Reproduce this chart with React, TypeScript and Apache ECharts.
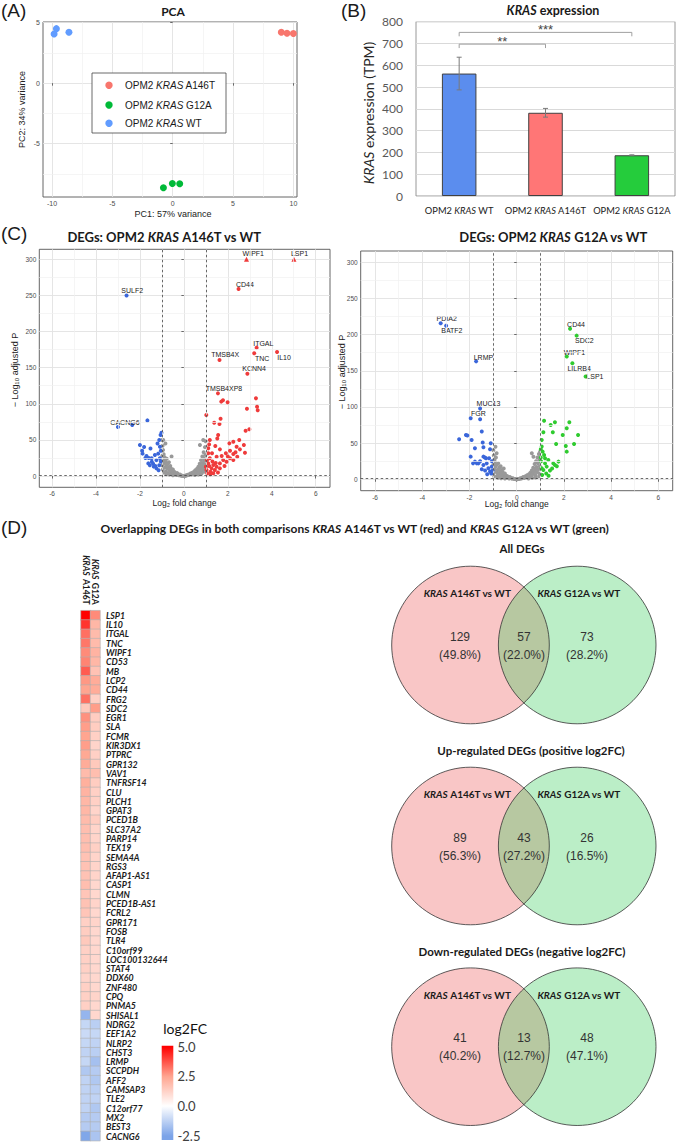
import React, { useEffect, useRef } from 'react';
import * as echarts from 'echarts';

// ===================== DATA =====================
// (A) PCA
const pcaGroupNames = ['A146T', 'G12A', 'WT'];
const pcaA146T = [[9.0, 4.2], [9.47, 4.12], [10.0, 4.1]];
const pcaG12A = [[-0.77, -8.63], [-0.03, -8.28], [0.58, -8.3]];
const pcaWT = [[-9.83, 4.06], [-9.64, 4.5], [-8.6, 4.2]];
const pcaXTicks = [-10, -5, 0, 5, 10];
const pcaYTicks = [-5, 0, 5];
const pcaMinorX = [-7.5, -2.5, 2.5, 7.5];
const pcaMinorY = [-7.5, -2.5, 2.5];

// (B) KRAS expression
const barCategories = ['WT', 'A146T', 'G12A'];
const barMeans = [562, 382, 187];
const barErrors = [75, 20, 2];
const sigFrom = [0, 0];
const sigTo = [1, 2];
const sigLevel = [697, 751];
const sigDrop = [679, 733];
const sigLabels = ['**', '***'];

// (C) Volcano plots
const volcXTicks = [-6, -4, -2, 0, 2, 4, 6];
const volcYTicks = [0, 50, 100, 150, 200, 250, 300];
const volcMinorX = [-5, -3, -1, 1, 3, 5];
const volcMinorY = [25, 75, 125, 175, 225, 275];
const fcThreshold = [-1, 1];
const pThreshold = [1.3];

const a146tLabeled = [
  ['WIPF1', 2.85, 300], ['LSP1', 5.01, 300], ['CD44', 2.49, 259], ['ITGAL', 3.31, 177.7],
  ['TNC', 3.2, 170], ['IL10', 4.24, 171.7], ['TMSB4X', 1.62, 160.6], ['KCNN4', 2.89, 141.7],
  ['TMSB4XP8', 1.55, 114.4], ['SULF2', -2.61, 250], ['CACNG6', -3.0, 67.8],
];
const a146tUp = [
  [1.02, 84.4], [1.7, 103], [1.78, 105], [1.99, 102], [2.87, 93], [3.28, 107.5], [3.33, 96], [3.36, 91],
  [1.38, 73.8], [1.62, 72], [1.67, 79.4], [2.98, 64.6], [2.81, 62.8], [1.56, 56.8], [1.52, 52],
  [2.52, 49.8], [2.25, 47.5], [2.07, 45.2], [2.73, 43], [2.4, 40.6], [1.43, 41.5], [1.15, 43.8],
  [1.18, 49.8], [1.11, 31.4], [1.64, 36.9], [2.55, 36.9], [2.1, 35], [1.91, 31.4], [2.25, 30.5],
  [2.78, 32.3], [1.72, 27.7], [1.49, 26.8], [2.43, 26.8], [1.18, 24.5], [2.1, 24.5], [1.11, 17.5],
  [1.34, 15.2], [1.64, 17.5], [1.94, 19.8], [2.25, 22.2], [1.79, 22.2], [1.26, 10.6], [1.03, 8.3],
  [1.49, 12.9], [1.15, 13.8], [1.41, 8.3], [1.64, 10.6], [1.06, 3.7], [1.21, 6], [1.0, 12.9],
  [1.34, 3.7], [1.11, 38.3], [1.28, 31.4], [1.05, 22], [1.3, 20], [1.55, 5], [1.85, 14], [2.0, 27],
  [1.2, 2.5], [1.45, 18], [2.35, 33],
];
const a146tDown = [
  [-2.35, 70.6], [-1.66, 77], [-2.0, 43], [-1.81, 40.2], [-1.9, 35], [-1.88, 31], [-1.7, 27.7],
  [-1.6, 25], [-1.47, 24.5], [-1.25, 22], [-1.09, 24.5], [-1.17, 31], [-1.12, 50], [-1.06, 56.8],
  [-1.02, 60], [-1.09, 40.6], [-1.37, 13], [-1.25, 10.6], [-1.12, 15], [-1.62, 17.5], [-1.46, 19.8],
  [-1.32, 29], [-1.52, 38], [-1.05, 20], [-1.15, 8], [-1.4, 17], [-1.55, 15], [-1.2, 45], [-1.75, 25],
  [-1.05, 35], [-1.3, 14],
];
const a146tNs = [
  [-0.99, 50], [-0.97, 42], [-0.95, 36], [-0.98, 28], [-0.94, 22], [-0.99, 15], [-0.96, 9], [-0.92, 30],
  [-0.9, 18], [-0.88, 26], [-0.86, 12], [-0.84, 20], [-0.82, 6], [-0.8, 15], [-0.78, 24], [-0.76, 10],
  [-0.74, 17], [-0.72, 4], [-0.7, 12], [-0.68, 19], [-0.65, 8], [-0.62, 14], [-0.6, 3], [-0.58, 10],
  [-0.56, 27], [-0.54, 6], [-0.5, 9], [-0.48, 3], [-0.45, 6], [-0.42, 2], [-0.4, 5], [-0.36, 3],
  [-0.33, 1.5], [-0.3, 4], [-0.26, 2], [-0.22, 1], [-0.18, 2], [-0.14, 0.8], [-0.1, 0.5], [-0.06, 0.3],
  [-0.02, 0.1], [0.02, 0.1], [0.06, 0.4], [0.1, 0.6], [0.14, 1], [0.18, 1.8], [0.22, 1.3], [0.26, 2.6],
  [0.3, 3.5], [0.34, 2], [0.38, 4.5], [0.42, 3], [0.46, 6], [0.5, 4], [0.52, 8], [0.56, 6], [0.6, 10],
  [0.62, 4], [0.66, 13], [0.68, 8], [0.72, 17], [0.74, 11], [0.76, 5], [0.78, 22], [0.8, 14], [0.82, 8],
  [0.84, 27], [0.86, 18], [0.88, 11], [0.9, 33], [0.92, 24], [0.94, 16], [0.96, 40], [0.98, 29],
  [0.97, 9], [0.99, 48], [0.73, 43], [0.88, 50], [-0.84, 45], [-0.94, 50], [0.95, 21], [-0.97, 19],
  [-0.91, 5], [0.91, 6], [-0.66, 2], [0.66, 2], [-0.5, 1], [0.5, 1.5], [-0.8, 2.5], [0.8, 3],
];

const g12aLabeled = [
  ['PDIA2', -3.22, 215.7], ['BATF2', -2.99, 212.4], ['LRMP', -1.72, 163], ['MUC13', -1.55, 97.7],
  ['FGR', -1.95, 84.3], ['CD44', 2.26, 208], ['SDC2', 2.54, 198.6], ['WIPF1', 2.12, 169.6],
  ['LILRB4', 2.36, 160.4], ['LSP1', 2.92, 142],
];
const g12aUp = [
  [1.16, 81], [1.62, 78.8], [1.44, 75], [2.23, 78.8], [2.12, 70.5], [2.6, 61.3], [1.13, 65], [1.53, 65],
  [1.95, 61.3], [1.06, 54.4], [1.67, 48.8], [2.43, 48.8], [2.08, 46], [2.12, 38.2], [1.06, 45.2],
  [1.02, 41.5], [1.1, 38.2], [1.16, 33.6], [1.2, 29], [1.34, 26.7], [1.55, 22], [1.77, 24.4],
  [1.62, 19.8], [1.27, 17.5], [1.13, 12.9], [1.41, 12], [1.06, 15.2], [1.2, 22], [1.03, 25], [1.08, 6],
  [1.25, 8], [1.5, 15], [1.02, 30], [1.35, 5], [1.7, 18],
];
const g12aDown = [
  [-1.55, 83], [-1.48, 66], [-2.44, 55.3], [-2.15, 61.3], [-2.09, 60.4], [-1.91, 54.4], [-1.44, 50.7],
  [-1.1, 49.8], [-1.77, 42.9], [-1.41, 44.2], [-1.13, 41.5], [-1.95, 31.3], [-1.41, 31.3], [-1.3, 29],
  [-1.17, 29], [-1.77, 24.4], [-1.62, 22], [-1.41, 19.8], [-1.06, 17.5], [-1.2, 15.2], [-1.34, 12],
  [-1.13, 10.6], [-1.48, 13.8], [-1.69, 22], [-1.27, 22], [-1.85, 22], [-1.55, 25], [-1.05, 25],
  [-1.08, 8], [-1.25, 7], [-1.02, 12], [-1.35, 30],
];
const g12aNs = [
  [-0.99, 40], [-0.97, 33], [-0.95, 27], [-0.98, 20], [-0.94, 14], [-0.99, 8], [-0.92, 24], [-0.9, 17],
  [-0.88, 30], [-0.86, 10], [-0.85, 36], [-0.84, 20], [-0.82, 5], [-0.8, 13], [-0.78, 22], [-0.76, 8],
  [-0.74, 16], [-0.72, 3], [-0.7, 11], [-0.68, 18], [-0.65, 7], [-0.62, 13], [-0.6, 3], [-0.58, 9],
  [-0.55, 15], [-0.52, 5], [-0.5, 8], [-0.47, 3], [-0.44, 5], [-0.41, 2], [-0.38, 4], [-0.35, 2.5],
  [-0.32, 1.2], [-0.29, 3], [-0.25, 1.8], [-0.21, 0.9], [-0.17, 1.5], [-0.13, 0.6], [-0.09, 0.4],
  [-0.05, 0.2], [0, 0.1], [0.04, 0.2], [0.08, 0.4], [0.12, 0.8], [0.16, 1.3], [0.2, 1], [0.24, 2.2],
  [0.28, 3], [0.32, 1.8], [0.36, 4], [0.4, 2.6], [0.44, 5.5], [0.48, 3.5], [0.52, 7], [0.55, 5],
  [0.58, 9], [0.61, 4], [0.64, 12], [0.67, 7], [0.7, 16], [0.71, 31], [0.64, 36], [0.73, 10],
  [0.76, 21], [0.78, 13], [0.8, 6], [0.82, 25], [0.84, 17], [0.86, 10], [0.88, 30], [0.9, 22],
  [0.92, 14], [0.94, 35], [0.96, 26], [0.98, 18], [0.97, 8], [0.99, 38], [0.95, 4], [-0.95, 4],
  [-0.66, 1.5], [0.66, 2], [-0.5, 1], [0.5, 1.2], [-0.8, 2], [0.8, 2.5], [-0.9, 45],
];

// (D) heatmap
const heatColumns = ['A146T', 'G12A'];
const heatGenes = [
  'LSP1', 'IL10', 'ITGAL', 'TNC', 'WIPF1', 'CD53', 'MB', 'LCP2', 'CD44', 'FRG2', 'SDC2', 'EGR1', 'SLA',
  'FCMR', 'KIR3DX1', 'PTPRC', 'GPR132', 'VAV1', 'TNFRSF14', 'CLU', 'PLCH1', 'GPAT3', 'PCED1B',
  'SLC37A2', 'PARP14', 'TEX19', 'SEMA4A', 'RGS3', 'AFAP1-AS1', 'CASP1', 'CLMN', 'PCED1B-AS1', 'FCRL2',
  'GPR171', 'FOSB', 'TLR4', 'C10orf99', 'LOC100132644', 'STAT4', 'DDX60', 'ZNF480', 'CPQ', 'PNMA5',
  'SHISAL1', 'NDRG2', 'EEF1A2', 'NLRP2', 'CHST3', 'LRMP', 'SCCPDH', 'AFF2', 'CAMSAP3', 'TLE2',
  'C12orf77', 'MX2', 'BEST3', 'CACNG6',
];
const heatA146T = [
  5.0, 4.2, 3.3, 3.2, 2.9, 3.0, 3.6, 2.7, 2.5, 3.3, 1.5, 2.8, 2.6, 2.5, 2.6, 2.4, 2.3, 1.9, 2.2, 2.1,
  2.0, 2.0, 1.9, 1.8, 1.8, 1.8, 1.7, 1.7, 1.7, 1.8, 1.6, 1.7, 1.6, 1.3, 1.4, 1.5, 1.3, 1.3, 1.3, 1.2,
  1.3, 1.3, 1.3, -2.0, -1.1, -1.0, -1.1, -1.2, -1.1, -1.5, -1.2, -1.2, -1.2, -1.2, -1.4, -1.4, -2.4,
];
const heatG12A = [
  2.9, 2.0, 1.9, 1.9, 2.1, 2.0, 1.7, 2.3, 2.3, 1.3, 2.6, 1.4, 1.4, 1.3, 1.2, 1.3, 1.5, 1.8, 1.4, 1.3,
  1.3, 1.2, 1.4, 1.2, 1.2, 1.3, 1.2, 1.2, 1.2, 1.1, 1.1, 1.2, 1.1, 1.2, 1.1, 1.1, 1.1, 1.1, 1.1, 1.1,
  1.1, 1.2, 1.1, 1.1, -1.3, -1.1, -1.2, -1.3, -1.7, -1.4, -1.5, -1.3, -1.2, -1.5, -1.4, -1.4, -1.6,
];
const colorTicks = [5.0, 2.5, 0.0, -2.5];

// (D) Venn diagrams
const vennTitles = ['All DEGs', 'Up-regulated DEGs (positive log2FC)', 'Down-regulated DEGs (negative log2FC)'];
const vennLeftOnly = [129, 89, 41];
const vennBoth = [57, 43, 13];
const vennRightOnly = [73, 26, 48];

// ===================== STYLE / LAYOUT =====================
const SANS = '"Liberation Sans", Arial, "DejaVu Sans", sans-serif';
const CAL = 'Lato, "Open Sans", sans-serif';
const PCA_COLORS = ['#F8766D', '#00BA38', '#619CFF'];
const BAR_COLORS = ['#5B8DEE', '#FF7676', '#25CC3C'];
const V_RED = '#EF3B3B';
const V_BLUE = '#3A66DA';
const V_GREEN = '#2FCB2F';
const V_GRAY = '#999999';

const offA146T: Record<string, number[]> = {
  WIPF1: [7.3, -5], LSP1: [6, -5], CD44: [6.3, -4.7], SULF2: [5.7, -4.7], ITGAL: [6.7, -4.3],
  TNC: [8, 5], IL10: [7, 5.3], TMSB4X: [5.7, -5], KCNN4: [6.7, -4.7], TMSB4XP8: [6, -4.7], CACNG6: [7, -4.7],
};
const offG12A: Record<string, number[]> = {
  PDIA2: [6, -4.7], BATF2: [5.7, 5], LRMP: [7.3, -4.3], MUC13: [8.3, -4.7], FGR: [7.7, -5],
  CD44: [6, -4.3], SDC2: [7.7, 5], WIPF1: [7.7, -4], LILRB4: [6.7, 5.7], LSP1: [9.3, 0],
};

function ggAxis(ticks: number[], fontSize: number) {
  return {
    axisLine: { show: false },
    axisTick: { show: true, length: 2.5, customValues: ticks, lineStyle: { color: '#333', width: 0.7 } },
    axisLabel: { customValues: ticks, color: '#4d4d4d', fontFamily: SANS, fontSize, margin: 3 },
    splitLine: { show: true, lineStyle: { color: '#E2E2E2', width: 0.9 } },
  };
}

function gridLinesSeries(xi: number, xs: number[], ys: number[], color: string, width: number, type: any, z: number) {
  return {
    type: 'line', xAxisIndex: xi, yAxisIndex: xi, data: [], z, silent: true,
    markLine: {
      silent: true, symbol: 'none', animation: false, label: { show: false },
      lineStyle: { color, width, type },
      data: xs.map((v) => ({ xAxis: v })).concat(ys.map((v) => ({ yAxis: v })) as any),
    },
  };
}

function ptLabel(name: string, off: number[]) {
  return {
    show: true, formatter: name, position: [2 + off[0], 2 + off[1]], align: 'center', verticalAlign: 'middle',
    fontFamily: SANS, fontSize: 7, color: '#1a1a1a',
  };
}

function labeledItems(list: any[], offs: Record<string, number[]>, positive: boolean) {
  return list
    .filter((d) => (positive ? d[1] > 0 : d[1] < 0))
    .map((d) => ({
      name: d[0], value: [d[1], d[2]], symbol: d[2] >= 300 ? 'triangle' : 'circle',
      symbolSize: d[2] >= 300 ? 5 : 4, label: ptLabel(d[0], offs[d[0]]),
    }));
}

function scat(xi: number, data: any[], color: string, size: number, z: number) {
  return { type: 'scatter', xAxisIndex: xi, yAxisIndex: xi, data, symbolSize: size, z, itemStyle: { color, opacity: 1 }, silent: true };
}

function txt(x: number, y: number, text: string, o: any = {}, rotation = 0) {
  const { rich, ...rest } = o;
  return {
    type: 'text', x, y, rotation, z: 20, silent: true,
    style: { text, align: 'center', verticalAlign: 'middle', fill: '#1a1a1a', fontFamily: CAL, fontSize: 11, ...rest, rich },
  };
}

function buildOption() {
  const series: any[] = [];
  // PCA
  [pcaA146T, pcaG12A, pcaWT].forEach((d, i) => series.push({ ...scat(0, d, PCA_COLORS[i], 7, 3), name: pcaGroupNames[i] }));
  series.push(gridLinesSeries(0, pcaMinorX, pcaMinorY, '#F1F1F1', 0.7, 'solid', 1));

  // Bar chart
  series.push({
    type: 'bar', xAxisIndex: 1, yAxisIndex: 1, barWidth: '40%', z: 3,
    data: barMeans.map((v, i) => ({ value: v, itemStyle: { color: BAR_COLORS[i], borderColor: '#404040', borderWidth: 1 } })),
  });
  series.push({
    type: 'custom', xAxisIndex: 1, yAxisIndex: 1, z: 5, silent: true,
    data: barMeans.map((m, i) => [i, m - barErrors[i], m + barErrors[i]]),
    renderItem: (params: any, api: any) => {
      const lo = api.coord([api.value(0), api.value(1)]);
      const hi = api.coord([api.value(0), api.value(2)]);
      const st = { stroke: '#7a7a7a', lineWidth: 1 };
      const c = 2.5;
      return {
        type: 'group', children: [
          { type: 'line', shape: { x1: lo[0], y1: lo[1], x2: hi[0], y2: hi[1] }, style: st },
          { type: 'line', shape: { x1: lo[0] - c, y1: lo[1], x2: lo[0] + c, y2: lo[1] }, style: st },
          { type: 'line', shape: { x1: hi[0] - c, y1: hi[1], x2: hi[0] + c, y2: hi[1] }, style: st },
        ],
      };
    },
  });
  series.push({
    type: 'custom', xAxisIndex: 1, yAxisIndex: 1, z: 5, silent: true,
    data: sigFrom.map((f, i) => [f, sigTo[i], sigLevel[i], sigDrop[i]]),
    renderItem: (params: any, api: any) => {
      const a = api.coord([api.value(0), api.value(2)]);
      const b = api.coord([api.value(1), api.value(2)]);
      const d = api.coord([api.value(0), api.value(3)]);
      return {
        type: 'group', children: [
          { type: 'polyline', shape: { points: [[a[0], d[1]], a, b, [b[0], d[1]]] }, style: { stroke: '#a0a0a0', fill: null, lineWidth: 1 } },
          { type: 'text', style: { text: sigLabels[params.dataIndex], x: (a[0] + b[0]) / 2, y: a[1] + 4, align: 'center', verticalAlign: 'bottom', fontSize: 13, fontFamily: SANS, fill: '#444' } },
        ],
      };
    },
  });

  // Volcano left
  series.push(gridLinesSeries(2, volcMinorX, volcMinorY, '#F1F1F1', 0.7, 'solid', 1));
  series.push(scat(2, a146tNs, V_GRAY, 4, 3));
  series.push(scat(2, [...a146tDown, ...labeledItems(a146tLabeled, offA146T, false)], V_BLUE, 4, 4));
  series.push(scat(2, [...a146tUp, ...labeledItems(a146tLabeled, offA146T, true)], V_RED, 4, 4));
  series.push(gridLinesSeries(2, fcThreshold, pThreshold, '#444', 0.8, [2.5, 2.5], 6));
  // Volcano right
  series.push(gridLinesSeries(3, volcMinorX, volcMinorY, '#F1F1F1', 0.7, 'solid', 1));
  series.push(scat(3, g12aNs, V_GRAY, 4, 3));
  series.push(scat(3, [...g12aDown, ...labeledItems(g12aLabeled, offG12A, false)], V_BLUE, 4, 4));
  series.push(scat(3, [...g12aUp, ...labeledItems(g12aLabeled, offG12A, true)], V_GREEN, 4, 4));
  series.push(gridLinesSeries(3, fcThreshold, pThreshold, '#444', 0.8, [2.5, 2.5], 6));

  // Heatmap
  const heatIdx = series.length;
  const heatData: any[] = [];
  heatGenes.forEach((g, r) => {
    heatData.push([0, r, heatA146T[r]]);
    heatData.push([1, r, heatG12A[r]]);
  });
  series.push({
    type: 'heatmap', xAxisIndex: 4, yAxisIndex: 4, data: heatData, silent: true,
    itemStyle: { borderColor: '#b0b0b0', borderWidth: 0.6 },
  });

  const richIt = (size: number, weight = 'normal', color = '#1a1a1a', fam = CAL) => ({
    fontStyle: 'italic', fontWeight: weight, fontSize: size, fontFamily: fam, fill: color, color,
  });

  // ===== Graphic elements =====
  const g: any[] = [];
  // panel letters
  g.push(txt(1, 10, '(A)', { align: 'left', fontFamily: SANS, fontSize: 19 }));
  g.push(txt(341, 10, '(B)', { align: 'left', fontFamily: SANS, fontSize: 19 }));
  g.push(txt(1, 233, '(C)', { align: 'left', fontFamily: SANS, fontSize: 19 }));
  g.push(txt(1, 527, '(D)', { align: 'left', fontFamily: SANS, fontSize: 19 }));

  // PCA texts
  g.push(txt(173, 11, 'PCA', { fontWeight: 'bold', fontSize: 12 }));
  g.push(txt(173, 214, 'PC1: 57% variance', { fontFamily: SANS, fontSize: 9, fill: '#222' }));
  g.push(txt(22, 109.5, 'PC2: 34% variance', { fontFamily: SANS, fontSize: 9, fill: '#222' }, Math.PI / 2));
  // PCA legend
  g.push({ type: 'rect', z: 19, silent: true, shape: { x: 92, y: 73, width: 134, height: 60 }, style: { fill: '#fff', stroke: '#444', lineWidth: 0.8 } });
  const legYs = [85.3, 105, 123.3];
  pcaGroupNames.forEach((n, i) => {
    g.push({ type: 'circle', z: 20, silent: true, shape: { cx: 109, cy: legYs[i], r: 3.7 }, style: { fill: PCA_COLORS[i] } });
    g.push(txt(125, legYs[i], `OPM2 {i|KRAS} ${n}`, {
      align: 'left', fontFamily: SANS, fontSize: 10, fill: '#1a1a1a',
      rich: { i: richIt(10, 'normal', '#1a1a1a', SANS) },
    }));
  });

  // Bar chart texts
  g.push(txt(553, 10, '{i|KRAS} expression', {
    fontWeight: 'bold', fontSize: 12.5, rich: { i: richIt(12.5, 'bold') },
  }));
  g.push(txt(368, 113, '{i|KRAS} expression (TPM)', {
    fontSize: 14, fill: '#262626', rich: { i: richIt(14, 'normal', '#262626') },
  }, Math.PI / 2));

  // Volcano texts
  g.push(txt(164.5, 237, 'DEGs: OPM2 {i|KRAS} A146T vs WT', { fontWeight: 'bold', fontSize: 13, rich: { i: richIt(13, 'bold') } }));
  g.push(txt(553.5, 237, 'DEGs: OPM2 {i|KRAS} G12A vs WT', { fontWeight: 'bold', fontSize: 13, rich: { i: richIt(13, 'bold') } }));
  g.push(txt(184.5, 503, 'Log₂ fold change', { fontFamily: SANS, fontSize: 8.5, fill: '#222' }));
  g.push(txt(516.7, 504, 'Log₂ fold change', { fontFamily: SANS, fontSize: 8.5, fill: '#222' }));
  g.push(txt(15, 370, '− Log₁₀ adjusted P', { fontFamily: SANS, fontSize: 9, fill: '#222' }, Math.PI / 2));
  g.push(txt(342, 372, '− Log₁₀ adjusted P', { fontFamily: SANS, fontSize: 9, fill: '#222' }, Math.PI / 2));

  // D title
  g.push(txt(355, 528, 'Overlapping DEGs in both comparisons {i|KRAS} A146T vs WT (red) and {i|KRAS} G12A vs WT (green)', {
    fontWeight: 'bold', fontSize: 12, rich: { i: richIt(12, 'bold') },
  }));

  // Color bar
  const cbTop = 1045.7, cbH = 94.3, cbX = 161.7, cbW = 11.6;
  const pxPerUnit = 11.9, zeroY = 1106;
  g.push({
    type: 'rect', z: 20, silent: true, shape: { x: cbX, y: cbTop, width: cbW, height: cbH },
    style: {
      fill: {
        type: 'linear', x: 0, y: 0, x2: 0, y2: 1, colorStops: [
          { offset: 0, color: '#FF0000' }, { offset: 0.011, color: '#FF0000' },
          { offset: 0.327, color: '#FFA590' }, { offset: 0.64, color: '#FFFFFF' },
          { offset: 0.958, color: '#7BA3E8' }, { offset: 1, color: '#7BA3E8' },
        ],
      },
    },
  });
  g.push(txt(163.3, 1028.5, 'log2FC', { align: 'left', fontSize: 14, fill: '#111' }));
  colorTicks.forEach((v) => {
    g.push(txt(177.5, zeroY - v * pxPerUnit, v.toFixed(1), { align: 'left', fontSize: 13, fill: '#404040' }));
  });

  // Venn diagrams
  const vennCY = [645, 846, 1046.7];
  const titleX = [522, 531, 522];
  const titleY = [548, 750, 951];
  const cxL = 470.5, cxR = 577.2, r = 78.8;
  vennTitles.forEach((t, i) => {
    const cy = vennCY[i];
    const total = vennLeftOnly[i] + vennBoth[i] + vennRightOnly[i];
    const pct = (v: number) => `(${((v / total) * 100).toFixed(1)}%)`;
    g.push(txt(titleX[i], titleY[i], t, { fontWeight: 'bold', fontSize: 11.5 }));
    g.push({ type: 'circle', z: 15, silent: true, shape: { cx: cxL, cy, r }, style: { fill: '#F9C6C6' } });
    g.push({ type: 'circle', z: 15, silent: true, shape: { cx: cxR, cy, r }, style: { fill: 'rgba(48,204,84,0.33)' } });
    g.push({ type: 'circle', z: 16, silent: true, shape: { cx: cxL, cy, r }, style: { fill: 'none', stroke: '#333', lineWidth: 0.8 } });
    g.push({ type: 'circle', z: 16, silent: true, shape: { cx: cxR, cy, r }, style: { fill: 'none', stroke: '#333', lineWidth: 0.8 } });
    g.push(txt(467.5, cy - 52, '{i|KRAS} A146T vs WT', { fontWeight: 'bold', fontSize: 10, rich: { i: richIt(10, 'bold') } }));
    g.push(txt(579, cy - 52, '{i|KRAS} G12A vs WT', { fontWeight: 'bold', fontSize: 10, rich: { i: richIt(10, 'bold') } }));
    const numStyle = { fontFamily: SANS, fontSize: 12, fill: '#333' };
    g.push(txt(460, cy - 8.5, String(vennLeftOnly[i]), numStyle));
    g.push(txt(524, cy - 8.5, String(vennBoth[i]), numStyle));
    g.push(txt(587, cy - 8.5, String(vennRightOnly[i]), numStyle));
    g.push(txt(460, cy + 9.5, pct(vennLeftOnly[i]), numStyle));
    g.push(txt(524, cy + 9.5, pct(vennBoth[i]), numStyle));
    g.push(txt(587, cy + 9.5, pct(vennRightOnly[i]), numStyle));
  });

  const gridBase = { show: true, borderColor: '#555', borderWidth: 0.9, backgroundColor: '#fff', containLabel: false };

  return {
    animation: false,
    backgroundColor: '#ffffff',
    grid: [
      { ...gridBase, left: 43, top: 22, width: 254, height: 175 },
      { ...gridBase, left: 416, top: 21.7, width: 259, height: 174.3, borderColor: '#8c8c8c' },
      { ...gridBase, left: 39.3, top: 249.3, width: 290.7, height: 238 },
      { ...gridBase, left: 360.7, top: 251, width: 312, height: 239.7 },
      { left: 81, top: 610.7, width: 19, height: 530, show: false },
    ],
    xAxis: [
      { type: 'value', gridIndex: 0, min: -10.75, max: 10.3, splitNumber: 4, ...ggAxis(pcaXTicks, 7) },
      {
        type: 'category', gridIndex: 1, data: barCategories, axisLine: { show: false }, axisTick: { show: false },
        axisLabel: {
          margin: 10, interval: 0, hideOverlap: false, formatter: (v: string) => `{n|OPM2 }{i|KRAS}{n| ${v}}`,
          rich: { n: { fontFamily: CAL, fontSize: 9.3, color: '#222' }, i: { fontFamily: CAL, fontSize: 9.3, fontStyle: 'italic', color: '#222' } },
        },
      },
      { type: 'value', gridIndex: 2, min: -6.58, max: 6.65, splitNumber: 6, ...ggAxis(volcXTicks, 6.5) },
      { type: 'value', gridIndex: 3, min: -6.61, max: 6.61, splitNumber: 6, ...ggAxis(volcXTicks, 6.5) },
      {
        type: 'category', gridIndex: 4, data: heatColumns, position: 'top', axisLine: { show: false }, axisTick: { show: false },
        splitLine: { show: false },
        axisLabel: {
          rotate: 90, margin: 6, interval: 0, formatter: (v: string) => `{i|KRAS} {b|${v}}`,
          rich: {
            i: { fontFamily: CAL, fontSize: 8.5, fontStyle: 'italic', fontWeight: 'bold', color: '#1a1a1a' },
            b: { fontFamily: CAL, fontSize: 8.5, fontWeight: 'bold', color: '#1a1a1a' },
          },
        },
      },
    ],
    yAxis: [
      { type: 'value', gridIndex: 0, min: -9.4, max: 5.05, splitNumber: 3, ...ggAxis(pcaYTicks, 7) },
      {
        type: 'value', gridIndex: 1, min: 0, max: 800, interval: 100, axisLine: { show: false }, axisTick: { show: false },
        axisLabel: { fontFamily: CAL, fontSize: 12, color: '#595959', margin: 13 },
        splitLine: { lineStyle: { color: '#D9D9D9', width: 1 } },
      },
      { type: 'value', gridIndex: 2, min: -15.6, max: 313.8, splitNumber: 7, ...ggAxis(volcYTicks, 6.5) },
      { type: 'value', gridIndex: 3, min: -15.8, max: 315.6, splitNumber: 7, ...ggAxis(volcYTicks, 6.5) },
      {
        type: 'category', gridIndex: 4, data: heatGenes, inverse: true, position: 'right',
        axisLine: { show: false }, axisTick: { show: false }, splitLine: { show: false },
        axisLabel: { interval: 0, margin: 6, fontFamily: CAL, fontSize: 8.8, fontStyle: 'italic', fontWeight: 'bold', color: '#1a1a1a' },
      },
    ],
    visualMap: [{
      show: false, type: 'continuous', min: -2.5, max: 5, seriesIndex: heatIdx, dimension: 2,
      inRange: { color: ['#7BA3E8', '#FFFFFF', '#FFA590', '#FF0000'] },
    }],
    series,
    graphic: { elements: g },
  };
}

export default function App() {
  const ref = useRef<HTMLDivElement>(null);
  useEffect(() => {
    if (!ref.current) return;
    const chart = echarts.init(ref.current, null, { renderer: 'svg', width: 679, height: 1144 });
    chart.setOption(buildOption() as any);
    return () => chart.dispose();
  }, []);
  return (
    <div
      ref={ref}
      style={{ position: 'absolute', left: 0, top: 0, width: 679, height: 1144, background: '#fff' }}
    />
  );
}
